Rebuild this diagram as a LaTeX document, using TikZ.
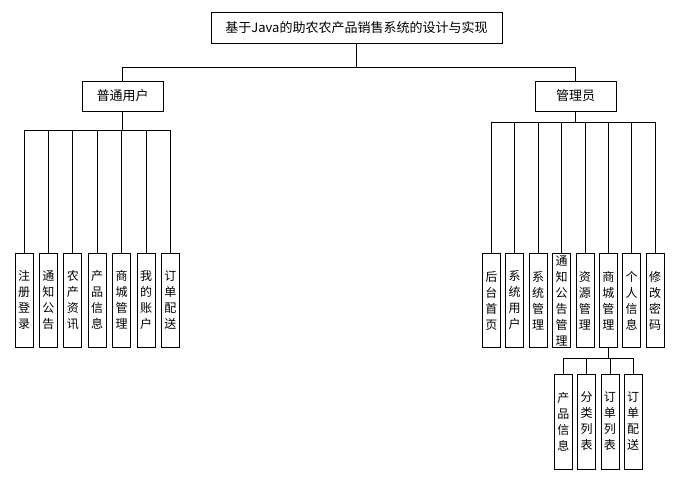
\documentclass[tikz,border=0pt]{standalone}
\usepackage{fontspec}
\setmainfont{Noto Sans CJK SC}
\usepackage{tikz}
\usetikzlibrary{positioning}

\begin{document}
\begin{tikzpicture}[
    x=1pt, y=1pt,
    node distance=6.4pt,
    head/.style={rectangle, draw, line width=0.8pt, minimum height=30pt, inner sep=0pt, font=\fontsize{13}{15}\selectfont},
    leaf/.style={rectangle, draw, line width=0.8pt, minimum width=18pt, minimum height=94pt, inner sep=1pt, outer sep=0pt, text width=13pt, align=center, font=\fontsize{12}{16}\selectfont},
    link/.style={line width=0.8pt}
]
\useasboundingbox (0,0) rectangle (692,-480);

% Top
\node[head, minimum width=291pt, minimum height=31pt] (root) at (356.5,-27.5) {基于Java的助农农产品销售系统的设计与实现};

% Roles
\node[head, minimum width=81pt] (user) at (122.5,-96) {普通用户};
\node[head, minimum width=81pt] (admin) at (575.5,-96) {管理员};

% User functions
\node[leaf] (u1) at (24,-300) {注\\册\\登\\录};
\node[leaf, right=of u1] (u2) {通\\知\\公\\告};
\node[leaf, right=of u2] (u3) {农\\产\\资\\讯};
\node[leaf, right=of u3] (u4) {产\\品\\信\\息};
\node[leaf, right=of u4] (u5) {商\\城\\管\\理};
\node[leaf, right=of u5] (u6) {我\\的\\账\\户};
\node[leaf, right=of u6] (u7) {订\\单\\配\\送};

% Admin functions
\node[leaf] (a1) at (491.3,-300.5) {后\\台\\首\\页};
\node[leaf, right=5.4pt of a1] (a2) {系\\统\\用\\户};
\node[leaf, right=5.4pt of a2] (a3) {系\\统\\管\\理};
\node[leaf, right=5.4pt of a3] (a4) {通\\知\\公\\告\\管\\理};
\node[leaf, right=5.4pt of a4] (a5) {资\\源\\管\\理};
\node[leaf, right=5.4pt of a5] (a6) {商\\城\\管\\理};
\node[leaf, right=5.4pt of a6] (a7) {个\\人\\信\\息};
\node[leaf, right=5.4pt of a7] (a8) {修\\改\\密\\码};

% Shop management
\node[leaf, minimum height=95pt] (s1) at (563.3,-421.5) {产\\品\\信\\息};
\node[leaf, minimum height=95pt, right=5.3pt of s1] (s2) {分\\类\\列\\表};
\node[leaf, minimum height=95pt, right=5.3pt of s2] (s3) {订\\单\\列\\表};
\node[leaf, minimum height=95pt, right=5.3pt of s3] (s4) {订\\单\\配\\送};

% Lines
\draw[link] (root.south) -- ++(0,-24) -| (user.north);
\draw[link] (root.south) -- ++(0,-24) -| (admin.north);
\foreach \i in {1,...,7}
    \draw[link] (user.south) -- ++(0,-19) -| (u\i.north);
\foreach \i in {1,...,8}
    \draw[link] (admin.south) -- ++(0,-11) -| (a\i.north);
\foreach \i in {1,...,4}
    \draw[link] (a6.south) -- ++(0,-11) -| (s\i.north);

\end{tikzpicture}
\end{document}
